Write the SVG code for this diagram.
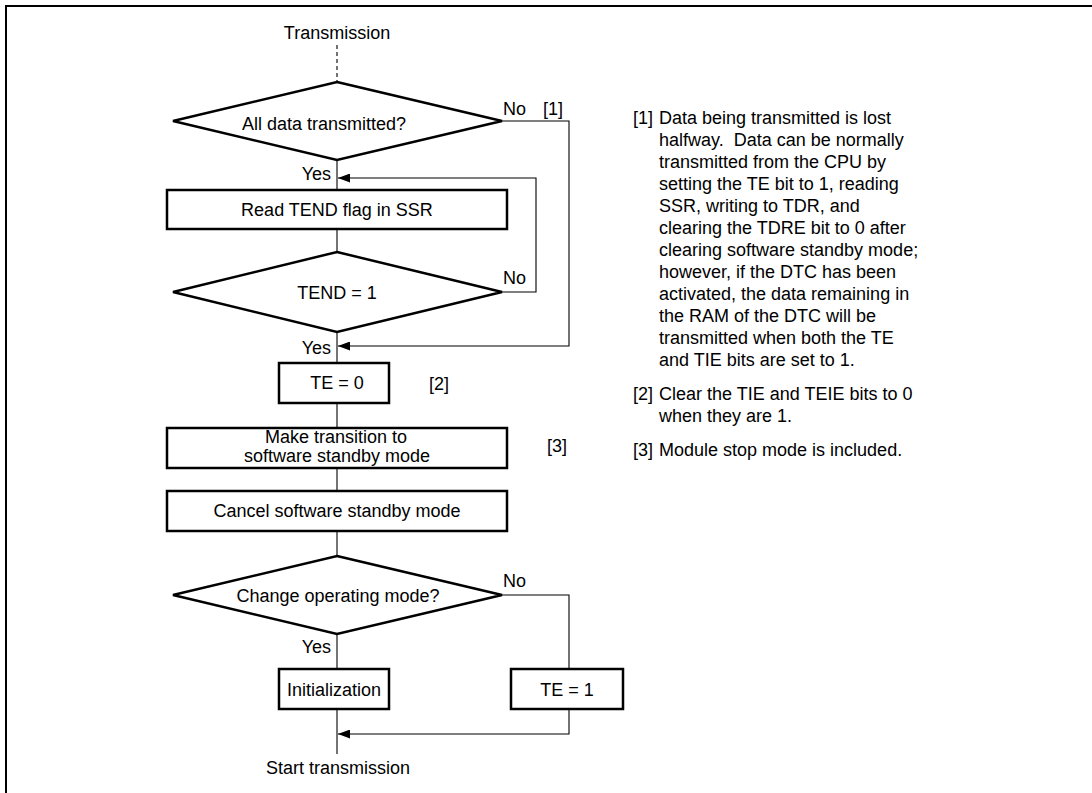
<svg xmlns="http://www.w3.org/2000/svg" width="1092" height="793" viewBox="0 0 1092 793">
<style>
text{font-family:"Liberation Sans",Arial,sans-serif;font-size:18px;fill:#000}
.c{text-anchor:middle}
.e{text-anchor:end}
.box{fill:#fff;stroke:#000;stroke-width:2.5}
.ln{fill:none;stroke:#000;stroke-width:1.1}
</style>
<defs>
<marker id="ah" markerWidth="13" markerHeight="9" refX="12" refY="4.5" orient="auto" markerUnits="userSpaceOnUse">
<path d="M0,0 L12,4.5 L0,9 Z" fill="#000"/>
</marker>
</defs>
<rect width="1092" height="793" fill="#fff"/>
<path d="M6,793 V6 H1092" fill="none" stroke="#000" stroke-width="2"/>

<g id="connectors">
<line class="ln" x1="337" y1="45" x2="337" y2="82" stroke-dasharray="4,3"/>
<line class="ln" x1="337" y1="160" x2="337" y2="190"/>
<line class="ln" x1="337" y1="229" x2="337" y2="252"/>
<line class="ln" x1="337" y1="332" x2="337" y2="363"/>
<line class="ln" x1="337" y1="403" x2="337" y2="428"/>
<line class="ln" x1="337" y1="468" x2="337" y2="491"/>
<line class="ln" x1="337" y1="531" x2="337" y2="556"/>
<line class="ln" x1="337" y1="634" x2="337" y2="669"/>
<line class="ln" x1="337" y1="709" x2="337" y2="754"/>
<polyline class="ln" points="502,121 569,121 569,346 338,346" marker-end="url(#ah)"/>
<polyline class="ln" points="502,292 536,292 536,178 338,178" marker-end="url(#ah)"/>
<polyline class="ln" points="502,595 569,595 569,669"/>
<polyline class="ln" points="569,709 569,734 338,734" marker-end="url(#ah)"/>
</g>

<g id="start"><text class="c" x="337" y="39">Transmission</text></g>

<g id="d1">
<polygon class="box" points="337,82 502,121 337,160 173,121"/>
<text class="c" x="324" y="130">All data transmitted?</text>
</g>
<g id="r1">
<rect class="box" x="167" y="190" width="340" height="39"/>
<text class="c" x="337" y="216">Read TEND flag in SSR</text>
</g>
<g id="d2">
<polygon class="box" points="337,252 502,292 337,332 173,292"/>
<text class="c" x="337" y="299">TEND = 1</text>
</g>
<g id="r2">
<rect class="box" x="279" y="363" width="110" height="40"/>
<text class="c" x="337" y="389">TE = 0</text>
</g>
<g id="r3">
<rect class="box" x="167" y="428" width="340" height="40"/>
<text class="c" x="336" y="443">Make transition to</text>
<text class="c" x="337" y="462">software standby mode</text>
</g>
<g id="r4">
<rect class="box" x="167" y="491" width="340" height="40"/>
<text class="c" x="337" y="517">Cancel software standby mode</text>
</g>
<g id="d3">
<polygon class="box" points="337,556 502,595 337,634 173,595"/>
<text class="c" x="338" y="602">Change operating mode?</text>
</g>
<g id="r5">
<rect class="box" x="279" y="669" width="110" height="40"/>
<text class="c" x="334" y="696">Initialization</text>
</g>
<g id="r6">
<rect class="box" x="511" y="669" width="112" height="40"/>
<text class="c" x="567" y="696">TE = 1</text>
</g>
<g id="end"><text class="c" x="338" y="774">Start transmission</text></g>

<g id="labels">
<text x="503" y="115">No</text>
<text x="543" y="115">[1]</text>
<text class="e" x="331" y="180">Yes</text>
<text x="503" y="284">No</text>
<text class="e" x="331" y="354">Yes</text>
<text x="429" y="390">[2]</text>
<text x="547" y="452">[3]</text>
<text x="503" y="587">No</text>
<text class="e" x="331" y="653">Yes</text>
</g>

<g id="notes">
<text x="633" y="124">[1]</text>
<text x="659" y="124">Data being transmitted is lost</text>
<text x="659" y="146">halfway.&#160; Data can be normally</text>
<text x="659" y="168">transmitted from the CPU by</text>
<text x="659" y="190">setting the TE bit to 1, reading</text>
<text x="659" y="212">SSR, writing to TDR, and</text>
<text x="659" y="234">clearing the TDRE bit to 0 after</text>
<text x="659" y="256">clearing software standby mode;</text>
<text x="659" y="278">however, if the DTC has been</text>
<text x="659" y="300">activated, the data remaining in</text>
<text x="659" y="322">the RAM of the DTC will be</text>
<text x="659" y="344">transmitted when both the TE</text>
<text x="659" y="366">and TIE bits are set to 1.</text>
<text x="633" y="400">[2]</text>
<text x="659" y="400">Clear the TIE and TEIE bits to 0</text>
<text x="659" y="422">when they are 1.</text>
<text x="633" y="456">[3]</text>
<text x="659" y="456">Module stop mode is included.</text>
</g>
</svg>
